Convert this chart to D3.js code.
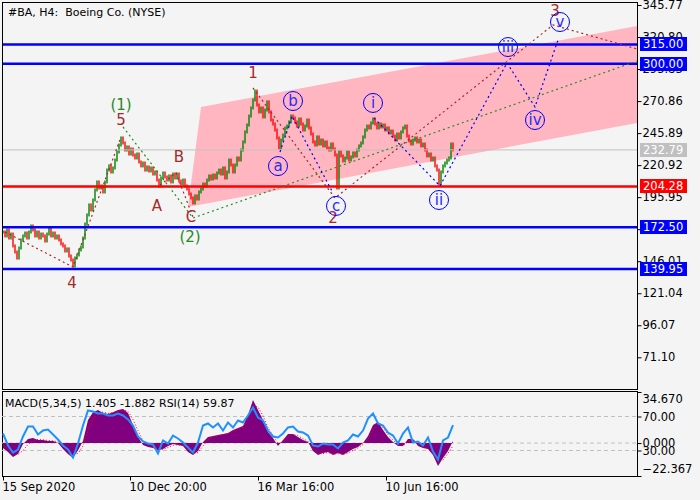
<!DOCTYPE html>
<html>
<head>
<meta charset="utf-8">
<script src="https://cdn.jsdelivr.net/npm/d3@7"></script>
<style>
body{margin:0;background:#f4f4f4;}
svg{display:block;font-family:"DejaVu Sans",sans-serif;}
</style>
</head>
<body>
<svg id="chart" width="700" height="500"></svg>
<script>
// closes of the H4 bars (one value every bar, open = previous close)
var closes = [
 168.8,165.7,170.4,164.1,167.2,157.9,153.2,148.5,156.3,162.6,
 165.7,168.0,164.1,168.8,173.5,170.4,165.7,168.8,164.1,167.2,
 165.7,161.8,167.2,171.1,165.7,168.0,164.1,165.7,162.6,159.5,
 157.9,154.0,155.6,150.1,147.0,142.3,148.5,150.9,154.8,157.1,
 164.1,175.0,182.1,189.9,186.0,193.8,201.6,207.8,203.1,204.7,
 200.0,207.8,217.1,220.3,215.6,218.7,224.9,231.2,236.6,242.1,
 238.2,232.7,235.1,229.6,233.5,228.8,226.5,229.6,223.4,220.3,
 222.6,217.1,219.5,216.4,218.7,214.0,215.6,209.3,204.7,210.9,
 214.8,211.7,209.3,212.5,207.8,214.0,210.9,214.0,208.6,206.2,
 209.3,204.7,202.3,198.4,195.3,191.4,196.9,194.5,200.0,202.3,
 206.2,204.7,209.3,212.5,210.1,213.2,210.9,214.8,217.1,214.0,
 218.7,210.9,215.6,224.9,221.0,215.6,221.0,226.5,224.9,232.7,
 239.0,246.8,252.2,259.2,265.5,271.7,278.7,267.8,262.4,265.5,
 258.5,263.9,270.2,262.4,256.1,253.0,248.3,242.1,234.3,240.5,
 244.4,249.9,251.4,254.6,259.2,257.7,254.6,251.4,256.9,253.0,
 248.3,251.4,256.1,249.9,245.2,239.0,236.6,242.9,237.4,240.5,
 235.9,239.0,234.3,232.7,237.4,233.5,228.8,203.1,231.2,228.1,
 224.2,226.5,231.2,224.9,227.3,230.4,228.1,232.7,235.9,238.2,
 242.9,248.3,251.4,249.9,253.8,256.9,253.0,249.9,253.0,250.7,
 252.2,248.3,249.9,246.0,247.5,243.6,240.5,245.2,242.1,246.8,
 249.9,251.4,243.6,239.8,237.4,240.5,242.1,239.0,240.5,235.9,
 237.4,232.7,228.1,229.6,224.9,226.5,220.3,217.1,206.2,215.6,
 220.3,222.6,224.9,226.5,237.4,232.79
];

var tickIdx = [0, 63.5, 127.5, 191.5];
var tickLabels = ["15 Sep 2020", "10 Dec 20:00", "16 Mar 16:00", "10 Jun 16:00"];
var priceTicks = [345.77, 320.80, 295.83, 270.86, 245.89, 220.92, 195.95, 170.98, 146.01, 121.04, 96.07, 71.10];

var blueLevels = [315.00, 300.00, 172.50, 139.95];
var redLevel = 204.28;
var lastPrice = 232.79;

// indicators, one sample every 2.5 bars
var indStep = 2.5;
var macdHist = [
 -3.4,-6.1,-9.5,-7.5,-0.7,2.7,3.4,2.0,2.0,1.4,
 1.4,0.0,-4.1,-7.5,-10.2,-4.8,1.4,15.6,21.0,22.4,
 20.4,19.7,21.0,22.4,23.1,20.4,12.2,4.1,-1.4,-2.7,
 -3.4,-4.8,-4.1,-2.0,-0.7,-1.4,-2.0,-6.1,-8.1,-5.4,
 0.7,4.1,4.8,5.4,6.1,6.8,8.8,10.2,11.5,19.0,
 29.2,22.4,15.6,7.5,3.4,-2.0,2.0,6.1,6.1,4.1,
 2.0,0.7,-5.4,-8.1,-6.8,-6.1,-8.1,-6.8,-8.1,-6.1,
 -4.1,-2.7,0.0,4.8,12.2,14.3,8.8,4.1,0.7,-2.0,
 -2.0,2.7,2.7,-2.0,-3.4,-4.1,-8.1,-15.6,-10.2,-5.4,
 1.405
];
var macdSignal = [
 -2.0,-3.5,-6.0,-7.8,-5.0,-1.0,1.8,2.5,2.2,1.8,
 1.5,0.8,-1.8,-5.0,-8.0,-7.0,-2.0,8.0,16.0,20.5,
 21.0,20.2,20.5,21.8,22.6,21.5,16.0,8.5,1.5,-1.5,
 -2.8,-4.0,-4.3,-3.0,-1.5,-1.2,-1.8,-4.5,-7.0,-6.5,
 -2.0,2.5,4.3,5.0,5.7,6.4,8.0,9.5,11.0,16.0,
 25.0,24.5,18.5,10.5,5.0,0.0,0.5,4.5,5.8,5.0,
 3.0,1.2,-3.5,-7.0,-7.2,-6.4,-7.5,-7.2,-7.6,-6.8,
 -5.0,-3.3,-1.0,3.0,9.5,13.5,10.5,5.8,2.0,-1.0,
 -2.0,1.0,2.5,-0.5,-2.8,-3.8,-6.8,-13.0,-11.5,-7.0,
 -1.882
];
var rsi = [
 50.0,35.9,27.6,31.2,46.5,58.2,58.2,48.8,53.5,54.7,
 48.8,42.9,35.9,31.2,21.8,38.2,59.4,77.1,75.9,73.5,
 73.5,71.2,71.2,73.5,71.2,66.5,59.4,46.5,40.6,38.2,
 37.1,26.5,41.8,38.2,47.6,44.1,39.4,33.5,27.6,39.4,
 59.4,61.8,57.1,61.8,53.5,62.9,57.1,65.3,62.9,71.2,
 80.6,68.8,65.3,53.5,46.5,45.3,50.0,57.1,58.2,52.4,
 51.2,47.6,35.9,34.7,38.2,37.1,37.1,32.4,39.4,41.8,
 48.8,46.5,53.5,67.6,73.5,61.8,59.4,51.2,47.6,38.2,
 50.0,57.1,39.4,40.6,35.9,45.3,28.8,19.4,41.8,45.3,
 59.87
];

// wave marks: [bar index, price]
var channel = [[92.5,188.3],[99,266.3],[317,329.4],[317,253.8]];
var brownWave4 = [[1,168.8],[35,141.5],[59,242.9]];
var brownABC = [[78.5,205.4],[86.5,214.8],[95,180.5]];
var brownWave123 = [[125,281.1],[166,195.3],[275,330.2],[317,311.5]];
var greenWave = [[60,250.7],[95,179.7],[317,302.1]];
var blueABC = [[138.5,231.2],[144.5,259.2],[165,199.2]];
var blueImpulse = [[185.5,257.7],[218.5,204.7],[252,300.6],[266,266.3],[277.5,318.5]];

var brownLabels = [["5",59,256.1],["A",77,189.1],["B",88,227.3],["C",94,180.5],
                   ["1",125,292.8],["2",165,179.7],["3",276,341.1],["4",34.5,129.0]];
var greenLabels = [["(1)",59,267.8],["(2)",93.5,164.9]];
var circleLabels = [["a",137.5,220.2],["b",145,270.9],["c",166.5,189.1],["i",185,269.4],
                    ["ii",218,193.75],["iii",252.5,313.0],["iv",266,256.1],["v",278.5,332.5]];

var svg = d3.select("#chart");
var W = 700, H = 500;
var plotL = 2, plotR = 637, plotT = 2, plotB = 389;
var subT = 392, subB = 476;

var x = d3.scaleLinear().domain([0, 317]).range([3, 637]);
var y = d3.scaleLinear().domain([71.10, 345.77]).range([357.3, 5]);
var yMacd = d3.scaleLinear().domain([-22.367, 34.670]).range([subB, subT]);
var yRsi = d3.scaleLinear().domain([0, 100]).range([subB, subT - 1]);

var brown = "#a52a2a", green = "#228b22", blue = "#0000ff";

svg.append("rect").attr("width", W).attr("height", H).attr("fill", "#f4f4f4");

svg.append("clipPath").attr("id", "mainClip")
  .append("rect").attr("x", plotL).attr("y", plotT).attr("width", plotR - plotL).attr("height", plotB - plotT);
svg.append("clipPath").attr("id", "subClip")
  .append("rect").attr("x", plotL).attr("y", subT).attr("width", plotR - plotL).attr("height", subB - subT);

var main = svg.append("g").attr("clip-path", "url(#mainClip)");

// pink channel
main.append("path")
  .attr("d", d3.line().x(function(d){return x(d[0]);}).y(function(d){return y(d[1]);})(channel) + "Z")
  .attr("fill", "#ffb6c1");

// candles
var bars = closes.map(function(c, i){
  return {i: i, o: i ? closes[i-1] : c, c: c};
});
main.selectAll("rect.bar")
  .data(bars)
  .enter()
  .append("rect")
  .attr("class", "bar")
  .attr("x", function(d){return x(d.i) - 0.7;})
  .attr("width", 1.4)
  .attr("y", function(d){return y(Math.max(d.o, d.c)) - 1.5;})
  .attr("height", function(d){return Math.abs(y(d.o) - y(d.c)) + 3;})
  .attr("fill", function(d){return d.c >= d.o ? "#008000" : "#ff0000";});

// horizontal levels
main.append("line")
  .attr("x1", plotL).attr("x2", plotR)
  .attr("y1", y(lastPrice)).attr("y2", y(lastPrice))
  .attr("stroke", "#c0c0c0").attr("stroke-width", 1);
main.selectAll("line.blue")
  .data(blueLevels)
  .enter()
  .append("line")
  .attr("class", "blue")
  .attr("x1", plotL).attr("x2", plotR)
  .attr("y1", function(d){return y(d);}).attr("y2", function(d){return y(d);})
  .attr("stroke", blue).attr("stroke-width", 2.5);
main.append("line")
  .attr("x1", plotL).attr("x2", plotR)
  .attr("y1", y(redLevel)).attr("y2", y(redLevel))
  .attr("stroke", "#ff0000").attr("stroke-width", 2.5);

// wave lines
var waveLine = d3.line().x(function(d){return x(d[0]);}).y(function(d){return y(d[1]);});
function dotted(pts, col){
  main.append("path").attr("d", waveLine(pts))
    .attr("fill", "none").attr("stroke", col).attr("stroke-width", 1.2)
    .attr("stroke-dasharray", "2,3");
}
dotted(brownWave4, brown);
dotted(brownABC, brown);
dotted(brownWave123, brown);
dotted(greenWave, green);
dotted(blueABC, blue);
dotted(blueImpulse, blue);

// wave labels
main.selectAll("text.bl")
  .data(brownLabels)
  .enter()
  .append("text")
  .attr("x", function(d){return x(d[1]);})
  .attr("y", function(d){return y(d[2]);})
  .attr("text-anchor", "middle").attr("dominant-baseline", "central")
  .attr("font-size", 15).attr("fill", brown)
  .text(function(d){return d[0];});
main.selectAll("text.gl")
  .data(greenLabels)
  .enter()
  .append("text")
  .attr("x", function(d){return x(d[1]);})
  .attr("y", function(d){return y(d[2]);})
  .attr("text-anchor", "middle").attr("dominant-baseline", "central")
  .attr("font-size", 15).attr("fill", green)
  .text(function(d){return d[0];});
var circ = main.selectAll("g.cl")
  .data(circleLabels)
  .enter()
  .append("g")
  .attr("transform", function(d){return "translate(" + x(d[1]) + "," + y(d[2]) + ")";});
circ.append("circle").attr("r", 9.5).attr("fill", "none").attr("stroke", blue).attr("stroke-width", 1);
circ.append("text")
  .attr("text-anchor", "middle").attr("dominant-baseline", "central")
  .attr("font-size", 15).attr("fill", "#2a2aff")
  .text(function(d){return d[0];});

// header
svg.append("text").attr("x", 8).attr("y", 16).attr("font-size", 11).attr("fill", "#000")
  .text("#BA, H4:\u00a0 Boeing Co. (NYSE)");

// frames
svg.append("rect").attr("x", plotL + 0.5).attr("y", plotT + 0.5)
  .attr("width", plotR - plotL).attr("height", plotB - plotT)
  .attr("fill", "none").attr("stroke", "#000");
svg.append("rect").attr("x", plotL + 0.5).attr("y", subT - 0.5)
  .attr("width", plotR - plotL).attr("height", subB - subT + 1)
  .attr("fill", "none").attr("stroke", "#000");

// price axis
var pAxis = svg.append("g").attr("transform", "translate(" + (plotR + 0.5) + ",0)")
  .call(d3.axisRight(y).tickValues(priceTicks).tickFormat(d3.format(".2f")).tickSize(4).tickPadding(1));
pAxis.select(".domain").remove();
pAxis.selectAll("text").attr("font-size", 11.5).attr("font-family", "DejaVu Sans").attr("fill", "#000");

// level tags
var tags = [[315.00, blue], [300.00, blue], [172.50, blue], [139.95, blue], [redLevel, "#ff0000"], [lastPrice, "#c0c0c0"]];
var tag = svg.selectAll("g.tag")
  .data(tags)
  .enter()
  .append("g")
  .attr("transform", function(d){return "translate(640," + Math.round(y(d[0])) + ")";});
tag.append("rect").attr("x", 0).attr("y", -7).attr("width", 47).attr("height", 14)
  .attr("fill", function(d){return d[1];});
tag.append("text").attr("x", 3).attr("y", 0).attr("dominant-baseline", "central")
  .attr("font-size", 11.5).attr("fill", "#fff")
  .text(function(d){return d3.format(".2f")(d[0]);});

// MACD / RSI panel
var sub = svg.append("g").attr("clip-path", "url(#subClip)");
var dash = [[yRsi, 70], [yRsi, 30], [yMacd, 0]];
sub.selectAll("line.lvl")
  .data(dash)
  .enter()
  .append("line")
  .attr("x1", plotL).attr("x2", plotR)
  .attr("y1", function(d){return d[0](d[1]);}).attr("y2", function(d){return d[0](d[1]);})
  .attr("stroke", "#c0c0c0").attr("stroke-dasharray", "4,3");

sub.append("path")
  .datum(macdHist)
  .attr("d", d3.area()
    .x(function(d, i){return x(i * indStep);})
    .y0(yMacd(0))
    .y1(function(d){return yMacd(d);}))
  .attr("fill", "#800080");

sub.append("path")
  .datum(macdSignal)
  .attr("d", d3.line()
    .x(function(d, i){return x(i * indStep);})
    .y(function(d){return yMacd(d);}))
  .attr("fill", "none").attr("stroke", "#ff0000").attr("stroke-width", 1)
  .attr("stroke-dasharray", "1,2");

sub.append("path")
  .datum(rsi)
  .attr("d", d3.line()
    .x(function(d, i){return x(i * indStep);})
    .y(function(d){return yRsi(d);}))
  .attr("fill", "none").attr("stroke", "#1e90ff").attr("stroke-width", 2);

svg.append("text").attr("x", 5).attr("y", 407).attr("font-size", 11).attr("fill", "#000")
  .text("MACD(5,34,5) 1.405 -1.882 RSI(14) 59.87");

// sub axes
var mAxis = svg.append("g").attr("transform", "translate(" + (plotR + 0.5) + ",0)")
  .call(d3.axisRight(yMacd).tickValues([34.670, 0, -22.367]).tickFormat(d3.format(".3f")).tickSize(4).tickPadding(1));
mAxis.select(".domain").remove();
mAxis.selectAll("text").attr("font-size", 11.5).attr("font-family", "DejaVu Sans").attr("fill", "#000")
  .attr("dy", function(d){return d > 30 ? "0.95em" : (d < -20 ? "-0.3em" : "0.32em");});
var rAxis = svg.append("g").attr("transform", "translate(" + (plotR + 0.5) + ",0)")
  .call(d3.axisRight(yRsi).tickValues([70, 30]).tickFormat(d3.format(".2f")).tickSize(4).tickPadding(1));
rAxis.select(".domain").remove();
rAxis.selectAll("text").attr("font-size", 11.5).attr("font-family", "DejaVu Sans").attr("fill", "#000");

// time axis
var tAxis = svg.append("g").attr("transform", "translate(0," + (subB + 0.5) + ")")
  .call(d3.axisBottom(x).tickValues(tickIdx).tickFormat(function(d, i){return tickLabels[i];}).tickSize(4).tickPadding(2));
tAxis.select(".domain").remove();
tAxis.selectAll("text").attr("text-anchor", "start").attr("dx", "-1")
  .attr("font-size", 11.5).attr("font-family", "DejaVu Sans").attr("fill", "#000");
</script>
</body>
</html>
